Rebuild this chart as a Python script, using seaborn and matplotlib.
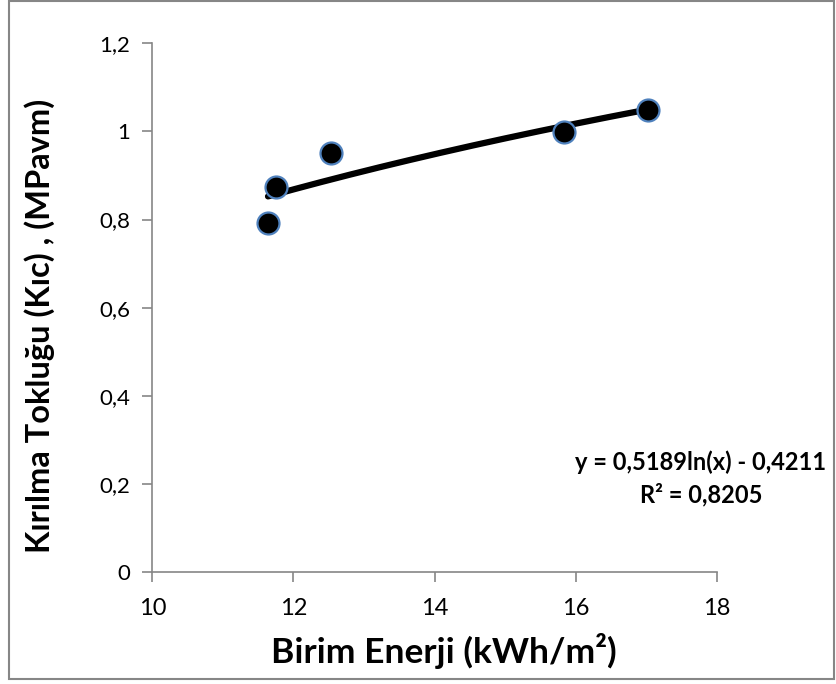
import numpy as np
import pandas as pd
import matplotlib
matplotlib.use("Agg")
import matplotlib.pyplot as plt
import seaborn as sns
from matplotlib.patches import Rectangle

# Data
energy = [11.64, 11.76, 12.53, 15.84, 17.03]
toughness = [0.793, 0.874, 0.951, 0.999, 1.049]
coef_a = 0.5189
coef_b = -0.4211
x_ticks = [10, 12, 14, 16, 18]
x_tick_labels = ["10", "12", "14", "16", "18"]
y_ticks = [0, 0.2, 0.4, 0.6, 0.8, 1.0, 1.2]
y_tick_labels = ["0", "0,2", "0,4", "0,6", "0,8", "1", "1,2"]
equation_text = "y = 0,5189ln(x) - 0,4211"
r2_text = "R² = 0,8205"
x_label = "Birim Enerji (kWh/m²)"
y_label = "Kırılma Tokluğu (Kıc) , (MPavm)"

sns.set_theme(style="white")
plt.rcParams['font.family'] = ['Lato', 'DejaVu Sans']

df = pd.DataFrame({"x": energy, "y": toughness})

fig = plt.figure(figsize=(8.36, 6.84), dpi=100)
ax = fig.add_axes([152.3 / 836, 1 - 572 / 684, (716.7 - 152.3) / 836, (572 - 43.3) / 684])

# trendline
xs = np.linspace(min(energy), max(energy), 200)
trend = pd.DataFrame({"x": xs, "y": coef_a * np.log(xs) + coef_b})
sns.lineplot(data=trend, x="x", y="y", ax=ax, color="black", linewidth=4.5,
             solid_capstyle="round", zorder=2)

sns.scatterplot(data=df, x="x", y="y", ax=ax, s=250, color="black",
                edgecolor="#4f81bd", linewidth=1.6, zorder=3)

ax.set_xlim(10, 18)
ax.set_ylim(0, 1.2)
ax.set_xticks(x_ticks)
ax.set_xticklabels(x_tick_labels)
ax.set_yticks(y_ticks)
ax.set_yticklabels(y_tick_labels)
ax.set_xlabel("")
ax.set_ylabel("")

for s in ["top", "right"]:
    ax.spines[s].set_visible(False)
for s in ["left", "bottom"]:
    ax.spines[s].set_color("#868686")
    ax.spines[s].set_linewidth(1.2)
ax.tick_params(axis="both", which="major", direction="out", length=7, width=1.2,
               color="#868686", labelcolor="black", bottom=True, left=True)
ax.tick_params(axis="y", labelsize=16, pad=9)
ax.tick_params(axis="x", labelsize=17, pad=12)

fig.text(444 / 836, 1 - 663 / 684, x_label, ha="center", va="baseline",
         fontsize=25.5, fontweight="bold", color="black")
fig.text(40 / 836, 1 - 325.5 / 684, y_label, ha="center", va="center",
         rotation=90, fontsize=23.5, fontweight="bold", color="black")

fig.text(701 / 836, 1 - 462 / 684, equation_text, ha="center", va="center",
         fontsize=17, fontweight="bold", color="black")
fig.text(701 / 836, 1 - 495 / 684, r2_text, ha="center", va="center",
         fontsize=17, fontweight="bold", color="black")

# outer chart frame
fig.patches.append(Rectangle((9 / 836, 1 - 679 / 684), (834 - 9) / 836, (679 - 1) / 684,
                             transform=fig.transFigure, fill=False,
                             edgecolor="#868686", linewidth=1.5))

fig.savefig("out.png", dpi=100)
